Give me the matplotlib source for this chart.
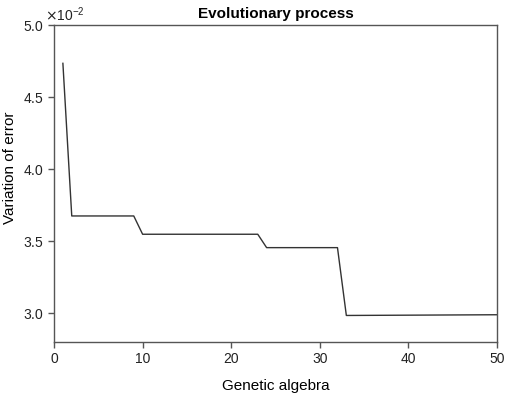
import matplotlib
matplotlib.use("Agg")
import matplotlib.pyplot as plt
from matplotlib.ticker import ScalarFormatter

plt.rcParams['font.family'] = ['Liberation Sans', 'DejaVu Sans']

# generation number and error values
generations = [1, 2, 9, 10, 23, 24, 32, 33, 50]
errors = [0.04734, 0.03674, 0.03674, 0.03547, 0.03547, 0.03454, 0.03454, 0.02983, 0.02988]

xticks = [0, 10, 20, 30, 40, 50]
yticks = [0.030, 0.035, 0.040, 0.045, 0.050]

fig = plt.figure(figsize=(5.05, 3.97), dpi=100)
ax = fig.add_axes([0.107, 0.139, 0.877, 0.798])

ax.plot(generations, errors, color='#333333', linewidth=1.0)

ax.set_xlim(0, 50)
ax.set_ylim(0.0280, 0.050)
ax.set_xticks(xticks)
ax.set_yticks(yticks)

fmt = ScalarFormatter(useMathText=True)
fmt.set_powerlimits((-1, 1))
ax.yaxis.set_major_formatter(fmt)
ax.yaxis.get_offset_text().set_fontsize(10)
ax.yaxis.get_offset_text().set_x(-0.02)

for s in ax.spines.values():
    s.set_color('#555555')
    s.set_linewidth(1.0)
ax.tick_params(direction='out', length=4, width=1, colors='#555555', labelcolor='#222222', labelsize=10)
ax.tick_params(top=False, right=False)

ax.set_title('Evolutionary process', fontsize=11, fontweight='bold', pad=5)
ax.set_xlabel('Genetic algebra', fontsize=11)
ax.xaxis.set_label_coords(0.5, -0.118)
ax.set_ylabel('Variation of error', fontsize=11)
ax.yaxis.set_label_coords(-0.083, 0.55)

fig.savefig('out.png', dpi=100)
